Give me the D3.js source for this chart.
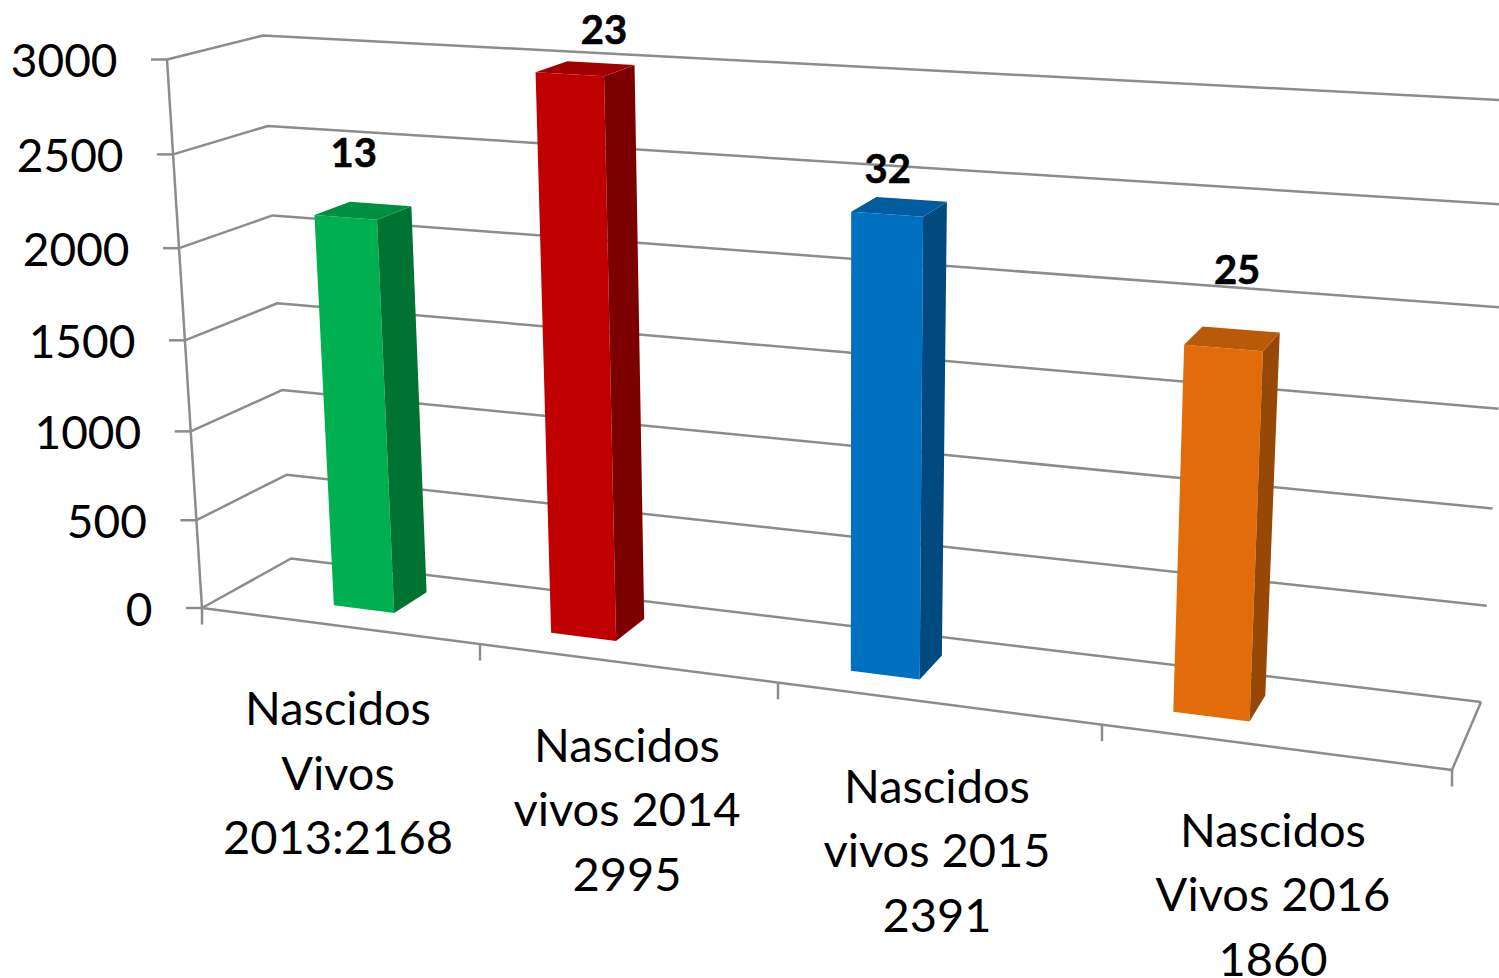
<!DOCTYPE html>
<html>
<head>
<meta charset="utf-8">
<script src="https://cdn.jsdelivr.net/npm/d3@7"></script>
<style>
html,body{margin:0;padding:0;background:#fff;overflow:hidden}
svg{display:block}
text{font-family:Lato,"Open Sans",sans-serif;fill:#000}
</style>
</head>
<body>
<svg id="chart" width="1499" height="978"></svg>
<script>
// ---- data ----
const categoryLines = [
  ["Nascidos", "Vivos", "2013:2168"],
  ["Nascidos", "vivos 2014", "2995"],
  ["Nascidos", "vivos 2015", "2391"],
  ["Nascidos", "Vivos 2016", "1860"]
];
const births = [2168, 2995, 2391, 1860];
const deaths = [13, 23, 32, 25];
const valueTicks = [0, 500, 1000, 1500, 2000, 2500, 3000];
const barColors = ["#00b050", "#c00000", "#0070c0", "#e36c0a"];
const sideColors = ["#007232", "#7d0000", "#004a80", "#974806"];
const topColors = ["#008f40", "#a00000", "#005c9e", "#b95a08"];

// ---- projected plot box (layout, not data) ----
const box = {
  fl: [[202, 608], [167, 59.5]],
  bl: [[291, 558.5], [263, 35.5]],
  fr: [[1452, 770], [1484, 138.5]],
  br: [[1481, 702], [1517, 101]]
};
const heightScale = d3.scaleLinear().domain(valueTicks).range([0, .16, .322, .488, .656, .827, 1]);
const edgeScale = d3.scaleLinear().domain([0, 1, 2, 3, 4]).range([0, .2224, .4608, .72, 1]);
const barLeft = d3.scaleLinear().domain([0, 1, 2, 3]).range([.084, .2605, .504, .766]);
const barRight = d3.scaleLinear().domain([0, 1, 2, 3]).range([.133, .3133, .56, .828]);
const depthNear = .32, depthFar = .72;

const mix = (a, b, k) => [a[0] + (b[0] - a[0]) * k, a[1] + (b[1] - a[1]) * k];
function project(t, d, v) {
  const h = heightScale(v);
  const fl = mix(box.fl[0], box.fl[1], h), bl = mix(box.bl[0], box.bl[1], h);
  const fr = mix(box.fr[0], box.fr[1], h), br = mix(box.br[0], box.br[1], h);
  return mix(mix(fl, bl, d), mix(fr, br, d), t);
}

const svg = d3.select("#chart");
const line = d3.line();
const gridColor = "#8c8c8c";
const grid = svg.append("g").attr("fill", "none").attr("stroke", gridColor).attr("stroke-width", 2.5);

// back wall and side wall gridlines
grid.selectAll("path.g").data(valueTicks).join("path").attr("class", "g")
  .attr("stroke-linejoin", "round")
  .attr("d", v => line([project(0, 0, v), project(0, 1, v), project(1, 1, v)]));
// vertical axis
grid.append("path").attr("d", line([project(0, 0, 0), project(0, 0, 3000)]));
// floor front and right edges
grid.append("path").attr("stroke-linejoin", "round")
  .attr("d", line([project(0, 0, 0), project(1, 0, 0), project(1, 1, 0)]));
// value tick stubs
grid.selectAll("path.vt").data(valueTicks).join("path").attr("class", "vt")
  .attr("d", v => { const p = project(0, 0, v); return line([[p[0] - 16, p[1]], p]); });
// category tick stubs
grid.selectAll("path.ct").data(d3.range(5)).join("path").attr("class", "ct")
  .attr("d", i => { const p = project(edgeScale(i), 0, 0); return line([p, [p[0], p[1] + 16.5]]); });

// value labels
svg.selectAll("text.vl").data(valueTicks).join("text").attr("class", "vl")
  .attr("text-anchor", "end").attr("font-size", 46)
  .attr("x", v => project(0, 0, v)[0] - 49.5)
  .attr("y", v => project(0, 0, v)[1] + 17.5)
  .text(v => v);

// bars
const bars = svg.selectAll("g.bar").data(births).join("g").attr("class", "bar");
bars.append("path").attr("fill", (d, i) => barColors[i])
  .attr("d", (v, i) => line([project(barLeft(i), depthNear, 0), project(barRight(i), depthNear, 0),
    project(barRight(i), depthNear, v), project(barLeft(i), depthNear, v)]) + "Z");
bars.append("path").attr("fill", (d, i) => sideColors[i])
  .attr("d", (v, i) => line([project(barRight(i), depthNear, 0), project(barRight(i), depthFar, 0),
    project(barRight(i), depthFar, v), project(barRight(i), depthNear, v)]) + "Z");
bars.append("path").attr("fill", (d, i) => topColors[i])
  .attr("d", (v, i) => line([project(barLeft(i), depthNear, v), project(barRight(i), depthNear, v),
    project(barRight(i), depthFar, v), project(barLeft(i), depthFar, v)]) + "Z");

// count labels, hand-placed in the original relative to each bar's top
const labelOffsets = [[-27, -37], [3, -19], [-24, -16], [-4, -45]];
svg.selectAll("text.dl").data(deaths).join("text").attr("class", "dl")
  .attr("text-anchor", "middle").attr("font-size", 40).attr("font-weight", 700)
  .attr("stroke", "#000").attr("stroke-width", .6)
  .attr("x", (d, i) => project((barLeft(i) + barRight(i)) / 2, depthFar, births[i])[0] + labelOffsets[i][0])
  .attr("y", (d, i) => project((barLeft(i) + barRight(i)) / 2, depthFar, births[i])[1] + labelOffsets[i][1])
  .text(d => d);

// category labels
const labelCenters = [338, 627, 937, 1273];
const labelBaselines = [725, 761.5, 802.5, 846.5];
const lineStep = 64.5;
const cats = svg.selectAll("text.cat").data(categoryLines).join("text").attr("class", "cat")
  .attr("text-anchor", "middle").attr("font-size", 47);
cats.selectAll("tspan").data((d, i) => d.map((s, j) => ({ s, i, j }))).join("tspan")
  .attr("x", d => labelCenters[d.i])
  .attr("y", d => labelBaselines[d.i] + d.j * lineStep)
  .text(d => d.s);
</script>
</body>
</html>
